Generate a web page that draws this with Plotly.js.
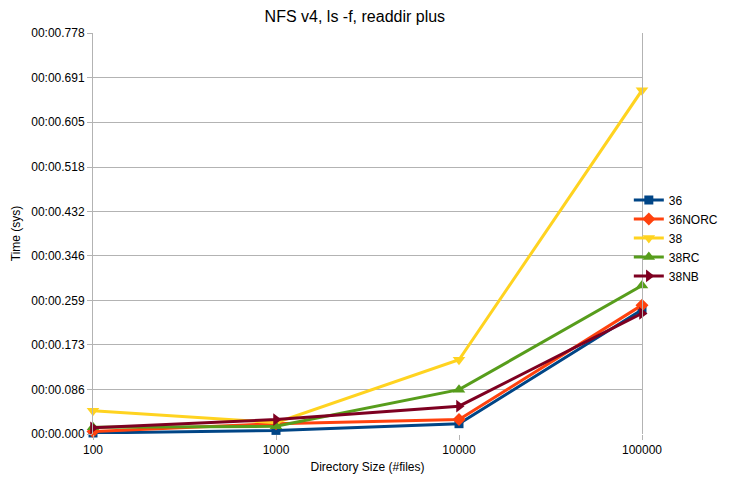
<!DOCTYPE html>
<html>
<head>
<meta charset="utf-8">
<script src="https://cdn.plot.ly/plotly-3.0.1.min.js"></script>
<style>html,body{margin:0;padding:0;background:#fff;}#chart{width:730px;height:479px;}</style>
</head>
<body>
<div id="chart"></div>
<script>
// Data
const dirSizes = [100, 1000, 10000, 100000];
const seriesNames = ["36", "36NORC", "38", "38RC", "38NB"];
const s36 = [0.002, 0.007, 0.020, 0.241];
const s36NORC = [0.005, 0.020, 0.028, 0.250];
const s38 = [0.045, 0.022, 0.144, 0.667];
const s38RC = [0.013, 0.015, 0.086, 0.288];
const s38NB = [0.012, 0.028, 0.054, 0.234];
const yTickVals = [0, 0.086, 0.173, 0.259, 0.346, 0.432, 0.518, 0.605, 0.691, 0.778];
const yTickText = ["00:00.000", "00:00.086", "00:00.173", "00:00.259", "00:00.346", "00:00.432", "00:00.518", "00:00.605", "00:00.691", "00:00.778"];
const xTickVals = [100, 1000, 10000, 100000];
const xTickText = ["100", "1000", "10000", "100000"];

const colors = ["#004586", "#ff420e", "#ffd320", "#579d1c", "#7e0021"];
const symbols = ["square", "diamond", "triangle-down", "triangle-up", "triangle-right"];
const markerSizes = [9, 10, 11, 11, 11];
const allSeries = [s36, s36NORC, s38, s38RC, s38NB];

const traces = allSeries.map((ys, i) => ({
  type: "scatter",
  mode: "lines+markers",
  name: seriesNames[i],
  x: dirSizes,
  y: ys,
  line: {color: colors[i], width: 3},
  marker: {color: colors[i], symbol: symbols[i], size: markerSizes[i]},
  cliponaxis: false
}));

const fam = "Liberation Sans, Arial, sans-serif";
const font = {family: fam, size: 12, color: "#000"};

const layout = {
  width: 730, height: 479,
  margin: {l: 93, r: 88, t: 33, b: 45, autoexpand: false},
  paper_bgcolor: "#fff",
  plot_bgcolor: "#fff",
  font: font,
  showlegend: true,
  title: {text: "NFS v4, ls -f, readdir plus", font: {family: fam, size: 16, color: "#000"}, x: 0.477, xref: "paper", xanchor: "center", y: 0.965, yref: "container", yanchor: "middle"},
  xaxis: {
    type: "log",
    range: [2, 5],
    tickvals: xTickVals,
    ticktext: xTickText,
    showgrid: false,
    zeroline: false,
    showline: false,
    ticks: "outside",
    ticklen: 5,
    tickcolor: "#b3b3b3",
    tickfont: font,
    title: {text: "Directory Size (#files)", font: {family: fam, size: 12, color: "#000"}, standoff: 6}
  },
  yaxis: {
    range: [0, 0.778],
    tickvals: yTickVals,
    ticktext: yTickText,
    showgrid: true,
    gridcolor: "#b3b3b3",
    gridwidth: 1,
    zeroline: false,
    showline: true,
    mirror: true,
    linecolor: "#b3b3b3",
    linewidth: 1,
    ticks: "outside",
    ticklen: 5,
    tickcolor: "#b3b3b3",
    tickfont: font,
    title: {text: "Time (sys)", font: {family: fam, size: 12, color: "#000"}, standoff: 8}
  },
  legend: {
    x: 0.976, xanchor: "left",
    y: 0.489, yanchor: "middle",
    font: {family: fam, size: 12, color: "#000"},
    itemwidth: 30,
    itemsizing: "trace",
    tracegroupgap: 0,
    bgcolor: "rgba(0,0,0,0)"
  }
};

Plotly.newPlot("chart", traces, layout, {displayModeBar: false, staticPlot: true});
</script>
</body>
</html>
